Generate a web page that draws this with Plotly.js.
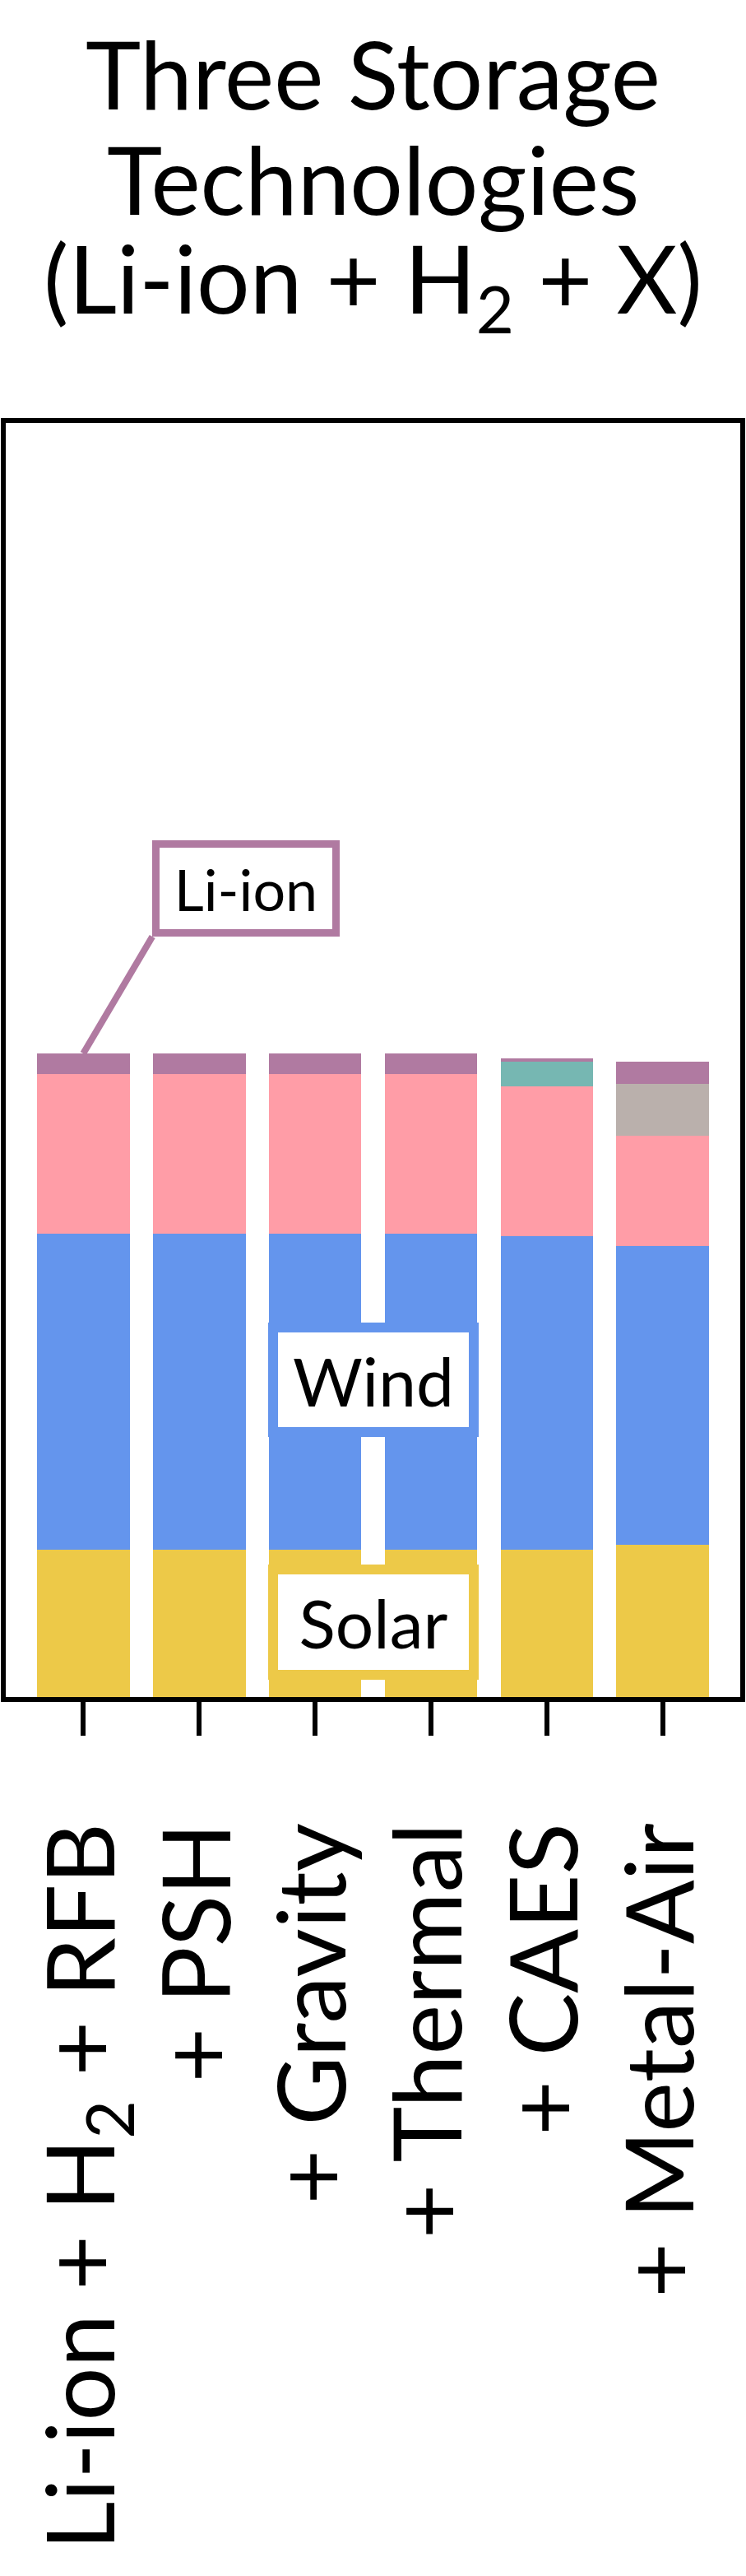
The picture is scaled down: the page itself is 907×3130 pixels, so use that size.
<!DOCTYPE html>
<html>
<head>
<meta charset="utf-8">
<script src="https://cdn.plot.ly/plotly-3.0.1.min.js"></script>
<style>
  html, body { margin: 0; padding: 0; background: #ffffff; }
  #chart { width: 907px; height: 3130px; }
</style>
</head>
<body>
<div id="chart"></div>
<script>
// ---- data (arbitrary units) ----
const positions = [0, 1, 2, 3, 4, 5];
const tickLabels = [
  "Li-ion + H<sub>2</sub> + RFB",
  "+ PSH",
  "+ Gravity",
  "+ Thermal",
  "+ CAES",
  "+ Metal-Air"
];
const solar   = [117.1, 117.1, 117.1, 117.1, 117.1, 121.0];
const wind    = [247.1, 247.1, 247.1, 247.1, 245.2, 233.6];
const hydrogen= [124.8, 124.8, 124.8, 124.8, 117.1, 86.2];
const thirdTech = [0, 0, 0, 0, 19.3, 40.5];   // RFB, PSH, Gravity, Thermal, CAES, Metal-Air
const liion   = [16.1, 16.1, 16.1, 16.1, 2.6, 17.4];

const colors = {
  solar: "#edc948",
  wind: "#6495ed",
  h2: "#ff9da7",
  liion: "#b07aa1",
  third: ["#59a14f", "#4e79a7", "#9c755f", "#e15759", "#76b7b2", "#bab0ac"]
};

const FONT = "Lato, 'Open Sans', sans-serif";

function barTrace(name, y, color) {
  return {
    type: "bar", name: name, x: positions, y: y,
    marker: { color: color, line: { width: 0 } },
    hoverinfo: "skip"
  };
}

const traces = [
  barTrace("Solar", solar, colors.solar),
  barTrace("Wind", wind, colors.wind),
  barTrace("H2", hydrogen, colors.h2),
  barTrace("Third technology", thirdTech, colors.third),
  barTrace("Li-ion", liion, colors.liion)
];

const firstTotal = solar[0] + wind[0] + hydrogen[0] + thirdTech[0] + liion[0];

const layout = {
  width: 907, height: 3130,
  margin: { l: 4, r: 4, t: 511, b: 1065, pad: 0 },
  paper_bgcolor: "#ffffff", plot_bgcolor: "#ffffff",
  barmode: "stack", bargap: 0.2,
  showlegend: false,
  font: { family: FONT, color: "#000000" },
  xaxis: {
    range: [-0.69, 5.69], fixedrange: true, automargin: false,
    tickmode: "array", tickvals: positions, ticktext: tickLabels,
    tickangle: -90, ticks: "outside", ticklen: 43, tickwidth: 6, tickcolor: "#000000",
    ticklabelstandoff: 60,
    tickfont: { family: FONT, size: 115, color: "#000000" },
    showgrid: false, zeroline: false, showline: false
  },
  yaxis: {
    range: [0, 1000], fixedrange: true, automargin: false,
    showticklabels: false, ticks: "", showgrid: false, zeroline: false, showline: false
  },
  shapes: [{
    type: "rect", xref: "paper", yref: "paper", x0: 0, x1: 1, y0: 0, y1: 1,
    line: { color: "#000000", width: 6 }, fillcolor: "rgba(0,0,0,0)", layer: "above"
  }],
  annotations: [
    { text: "Three Storage", xref: "paper", yref: "paper", x: 0.5, y: 1.2716,
      xanchor: "center", yanchor: "middle", showarrow: false,
      font: { family: FONT, size: 114, color: "#000000" } },
    { text: "Technologies", xref: "paper", yref: "paper", x: 0.5, y: 1.1892,
      xanchor: "center", yanchor: "middle", showarrow: false,
      font: { family: FONT, size: 114, color: "#000000" } },
    { text: "(Li-ion + H<sub>2</sub> + X)", xref: "paper", yref: "paper", x: 0.5, y: 1.1068,
      xanchor: "center", yanchor: "middle", showarrow: false,
      font: { family: FONT, size: 114, color: "#000000" } },
    { text: "Li-ion", x: 0, y: firstTotal, xref: "x", yref: "y",
      showarrow: true, arrowhead: 0, arrowwidth: 8, arrowcolor: colors.liion,
      ax: 84, ay: -142, xanchor: "left", yanchor: "bottom",
      bgcolor: "#ffffff", bordercolor: colors.liion, borderwidth: 9, borderpad: 0,
      width: 210, height: 99,
      font: { family: FONT, size: 70, color: "#000000" } },
    { text: "Wind", x: 2.5, y: 250.1, xref: "x", yref: "y", showarrow: false,
      xanchor: "center", yanchor: "middle",
      bgcolor: "#ffffff", bordercolor: colors.wind, borderwidth: 12, borderpad: 0,
      width: 232, height: 115,
      font: { family: FONT, size: 82, color: "#000000" } },
    { text: "Solar", x: 2.5, y: 60.5, xref: "x", yref: "y", showarrow: false,
      xanchor: "center", yanchor: "middle",
      bgcolor: "#ffffff", bordercolor: colors.solar, borderwidth: 12, borderpad: 0,
      width: 232, height: 116,
      font: { family: FONT, size: 82, color: "#000000" } }
  ]
};

Plotly.newPlot("chart", traces, layout, { staticPlot: true, displayModeBar: false });
</script>
</body>
</html>
